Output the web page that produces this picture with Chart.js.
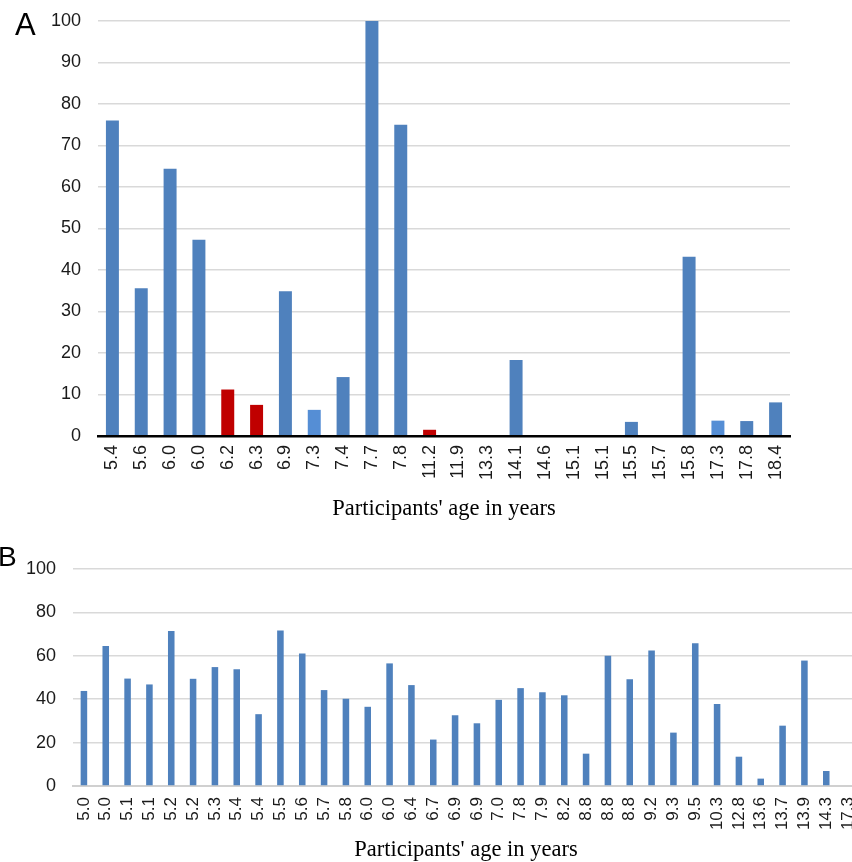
<!DOCTYPE html>
<html lang="en">
<head>
    <meta charset="UTF-8">
    <title>Participants' age in years</title>
    <script src="https://cdn.jsdelivr.net/npm/chart.js"></script>
    <style>
        html, body {
            margin: 0;
            padding: 0;
            background: #fff;
            width: 852px;
            height: 862px;
            overflow: hidden;
        }
        .wrap { position: absolute; left: 0; }
        #wrapA { top: 0; }
        #wrapB { top: 545px; }
        .panel {
            position: absolute;
            font-family: "Liberation Sans", Arial, sans-serif;
            line-height: 1;
            color: #000;
        }
    </style>
</head>
<body>
    <div class="wrap" id="wrapA"><canvas id="chartA" width="852" height="530"></canvas></div>
    <div class="wrap" id="wrapB"><canvas id="chartB" width="870" height="330"></canvas></div>
    <div class="panel" style="left:15px; top:9px; font-size:31px;">A</div>
    <div class="panel" style="left:-2px; top:543px; font-size:28px;">B</div>

    <script>
        // panel A
        const agesA = ['5.4', '5.6', '6.0', '6.0', '6.2', '6.3', '6.9', '7.3', '7.4', '7.7', '7.8', '11.2',
                       '11.9', '13.3', '14.1', '14.6', '15.1', '15.1', '15.5', '15.7', '15.8', '17.3', '17.8', '18.4'];
        const scoresA = [76, 35.6, 64.4, 47.3, 11.2, 7.5, 34.9, 6.3, 14.2, 100, 75, 1.5,
                         0, 0, 18.3, 0, 0, 0, 3.4, 0, 43.2, 3.7, 3.6, 8.1];
        // b = usual, r = red bar, l = lighter blue bar
        const groupA = ['b', 'b', 'b', 'b', 'r', 'r', 'b', 'l', 'b', 'b', 'b', 'r',
                        'b', 'b', 'b', 'b', 'b', 'b', 'b', 'b', 'b', 'l', 'b', 'b'];
        const yMaxA = 100, yStepA = 10;

        // panel B
        const agesB = ['5.0', '5.0', '5.1', '5.1', '5.2', '5.2', '5.3', '5.4', '5.4', '5.5', '5.6', '5.7',
                       '5.8', '6.0', '6.0', '6.4', '6.7', '6.9', '6.9', '7.0', '7.8', '7.9', '8.2', '8.8',
                       '8.8', '8.8', '9.2', '9.3', '9.5', '10.3', '12.8', '13.6', '13.7', '13.9', '14.3', '17.3'];
        const scoresB = [43.8, 64.5, 49.5, 46.8, 71.4, 49.4, 54.8, 53.8, 33.1, 71.7, 61.1, 44.2,
                         40.2, 36.5, 56.5, 46.5, 21.4, 32.6, 28.9, 39.7, 45.1, 43.2, 41.8, 14.9,
                         60.0, 49.2, 62.5, 24.6, 65.8, 37.8, 13.5, 3.4, 27.8, 57.8, 6.9, null];
        const yMaxB = 100, yStepB = 20;

        const colours = { b: '#4F81BD', r: '#C00000', l: '#558ED5' };
        const tickColour = '#1a1a1a';
        const xTitle = "Participants' age in years";
        const serif = '"Liberation Serif", "Times New Roman", serif';

        Chart.defaults.animation = false;
        Chart.defaults.font.family = '"Liberation Sans", Arial, sans-serif';

        // fixed axis sizes; drop the label overhang so layout padding sets the plot edges
        const fixYAxis = width => scale => {
            scale.width = width;
            scale.paddingTop = 0;
            scale.paddingBottom = 0;
        };
        const fixXAxis = height => scale => {
            scale.height = height;
            scale.paddingLeft = 0;
            scale.paddingRight = 0;
        };

        new Chart(document.getElementById('chartA'), {
            type: 'bar',
            data: {
                labels: agesA,
                datasets: [{
                    data: scoresA,
                    backgroundColor: groupA.map(g => colours[g]),
                    barPercentage: 0.45,
                    categoryPercentage: 1
                }]
            },
            options: {
                responsive: false,
                layout: { padding: { top: 21, right: 62, bottom: 0, left: 0 } },
                plugins: { legend: { display: false }, tooltip: { enabled: false } },
                scales: {
                    x: {
                        grid: { display: false, drawTicks: false },
                        border: { display: true, color: '#000', width: 2.5, z: 1 },
                        ticks: {
                            autoSkip: false, minRotation: 90, maxRotation: 90, padding: 9,
                            color: tickColour, font: { size: 18 }
                        },
                        title: {
                            display: true, text: xTitle, color: '#000',
                            font: { family: serif, size: 22.5 },
                            padding: { top: 0, bottom: 7 }
                        },
                        afterFit: fixXAxis(94)
                    },
                    y: {
                        min: 0, max: yMaxA,
                        grid: { color: '#d9d9d9', lineWidth: 1.5, drawTicks: false },
                        border: { display: false },
                        ticks: { stepSize: yStepA, padding: 17, color: tickColour, font: { size: 18 } },
                        afterFit: fixYAxis(98)
                    }
                }
            }
        });

        new Chart(document.getElementById('chartB'), {
            type: 'bar',
            data: {
                labels: agesB,
                datasets: [{
                    data: scoresB,
                    backgroundColor: colours.b,
                    barPercentage: 0.3,
                    categoryPercentage: 1
                }]
            },
            options: {
                responsive: false,
                layout: { padding: { top: 24, right: 11, bottom: 0, left: 0 } },
                plugins: { legend: { display: false }, tooltip: { enabled: false } },
                scales: {
                    x: {
                        grid: { display: false, drawTicks: false },
                        border: { display: true, color: '#d0d0d0', width: 2 },
                        ticks: {
                            autoSkip: false, minRotation: 90, maxRotation: 90, padding: 11,
                            color: tickColour, font: { size: 17 }
                        },
                        title: {
                            display: true, text: xTitle, color: '#000',
                            font: { family: serif, size: 22.5 },
                            padding: { top: 0, bottom: 11 }
                        },
                        afterFit: fixXAxis(89)
                    },
                    y: {
                        min: 0, max: yMaxB,
                        grid: { color: '#d9d9d9', lineWidth: 1.5, drawTicks: false },
                        border: { display: false },
                        ticks: { stepSize: yStepB, padding: 17, color: tickColour, font: { size: 18 } },
                        afterFit: fixYAxis(73)
                    }
                }
            }
        });
    </script>
</body>
</html>
